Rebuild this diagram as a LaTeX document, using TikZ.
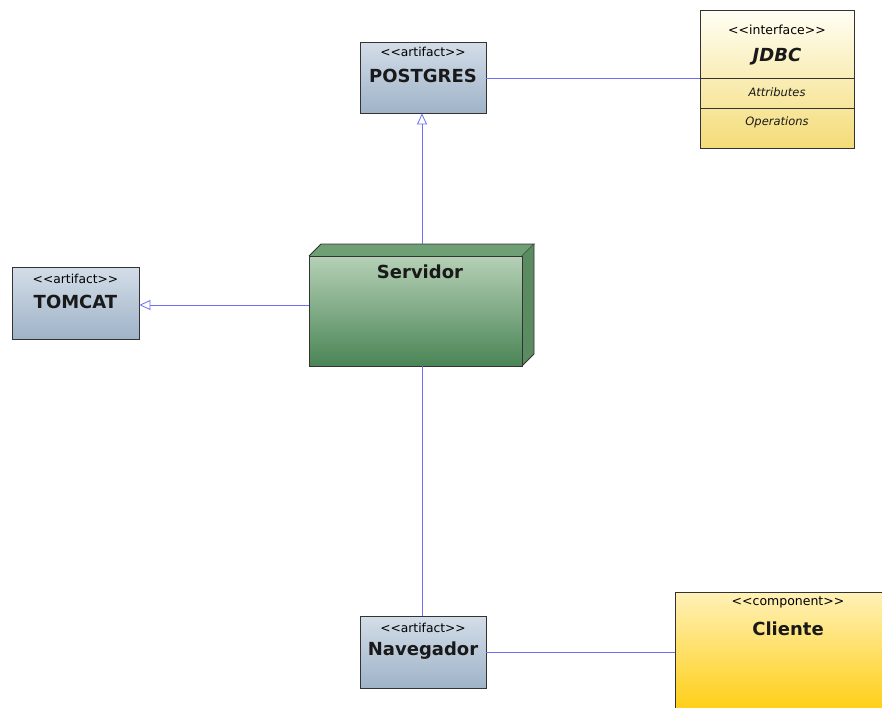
\documentclass[tikz,border=0pt]{standalone}
\usepackage{fontspec}
\setmainfont[Ligatures=NoCommon]{DejaVu Sans}
\usetikzlibrary{arrows.meta}
\definecolor{arttop}{HTML}{D3DDE8}
\definecolor{artbot}{HTML}{9FB3C8}
\definecolor{edge}{HTML}{333333}
\definecolor{conn}{HTML}{6E6EF5}
\definecolor{jtop}{HTML}{FFFEF4}
\definecolor{jbot}{HTML}{F4DC78}
\definecolor{ctop}{HTML}{FFF1B8}
\definecolor{cbot}{HTML}{FFCB05}
\definecolor{gtop}{HTML}{B5D0B5}
\definecolor{gbot}{HTML}{4A8556}
\definecolor{gtopface}{HTML}{6F9F74}
\definecolor{gside}{HTML}{5B8C61}
\newcommand{\lt}{<\kern0pt}
\newcommand{\gt}{>\kern0pt}
\tikzset{
  artbox/.style={draw=edge, line width=0.9pt, top color=arttop, bottom color=artbot, minimum width=126pt, minimum height=71pt, inner sep=0pt},
  stereo/.style={font=\fontsize{12.3}{14}\selectfont, text=black, inner sep=0pt},
  bname/.style={font=\fontsize{18}{20}\selectfont\bfseries, text=black!90, inner sep=0pt},
  iname/.style={font=\fontsize{11.5}{13}\selectfont\itshape, text=black!90, inner sep=0pt},
  wire/.style={draw=conn, line width=0.8pt},
  gen/.style={wire, -{Triangle[open, length=11pt, width=10pt]}}
}
\begin{document}
\begin{tikzpicture}[x=1pt,y=-1pt]
\useasboundingbox (0,0) rectangle (882,707);
\fill[white] (0,0) rectangle (882,707);
\clip (0,0) rectangle (882,707);

% POSTGRES
\node[artbox] (pg) at (423,77.5) {};
\node[stereo] (pgs) at (423,52) {\lt\lt artifact\gt\gt};
\node[bname] (pgn) at (423,76) {POSTGRES};

% JDBC interface
\node[draw=edge, line width=0.9pt, top color=jtop, bottom color=jbot, minimum width=154pt, minimum height=138pt, inner sep=0pt] (jd) at (777,79) {};
\draw[edge, line width=0.9pt] (700,78) -- (854,78);
\draw[edge, line width=0.9pt] (700,108) -- (854,108);
\node[stereo, font=\fontsize{12.5}{14}\selectfont] (jds) at (777,30) {\lt\lt interface\gt\gt};
\node[bname, font=\fontsize{18}{20}\selectfont\bfseries\itshape] (jdn) at (777,57) {JDBC};
\node[iname] (jda) at (777,92) {Attributes};
\node[iname] (jdo) at (777,122) {Operations};

% TOMCAT
\node[artbox, minimum width=127pt, minimum height=72pt] (tc) at (75.5,303) {};
\node[stereo] (tcs) at (75.5,279) {\lt\lt artifact\gt\gt};
\node[bname] (tcn) at (75.5,302) {TOMCAT};

% Servidor (3D node)
\fill[gtopface] (309,256) -- (321,244) -- (534,244) -- (522,256) -- cycle;
\draw[edge, line width=0.9pt] (309,256) -- (321,244) -- (534,244) -- (522,256);
\fill[gside] (522,256) -- (534,244) -- (534,354) -- (522,366) -- cycle;
\draw[edge, line width=0.9pt] (534,244) -- (534,354) -- (522,366);
\node[draw=edge, line width=0.9pt, top color=gtop, bottom color=gbot, minimum width=213pt, minimum height=110pt, inner sep=0pt] (sv) at (415.5,311) {};
\node[bname] (svn) at (420,272) {Servidor};
\coordinate (svtop) at (422,244);

% Navegador
\node[artbox, minimum height=72pt] (nav) at (423,652) {};
\node[stereo] (navs) at (423,628) {\lt\lt artifact\gt\gt};
\node[bname] (navn) at (423,651) {Navegador};

% Cliente component
\node[draw=edge, line width=0.9pt, top color=ctop, bottom color=cbot, minimum width=226pt, minimum height=130pt, inner sep=0pt] (cl) at (788,657) {};
\node[stereo, font=\fontsize{12.5}{14}\selectfont] (cls) at (788,602) {\lt\lt component\gt\gt};
\node[bname] (cln) at (788,629) {Cliente};

% connectors
\draw[gen] (svtop) -- (svtop |- pg.south);
\draw[gen] (sv.west |- 0,305) -- (tc.east |- 0,305);
\draw[wire] (pg.east |- 0,78) -- (jd.west |- 0,78);
\draw[wire] (sv.south -| 422,0) -- (nav.north -| 422,0);
\draw[wire] (nav.east) -- (cl.west |- nav.east);
\end{tikzpicture}
\end{document}
